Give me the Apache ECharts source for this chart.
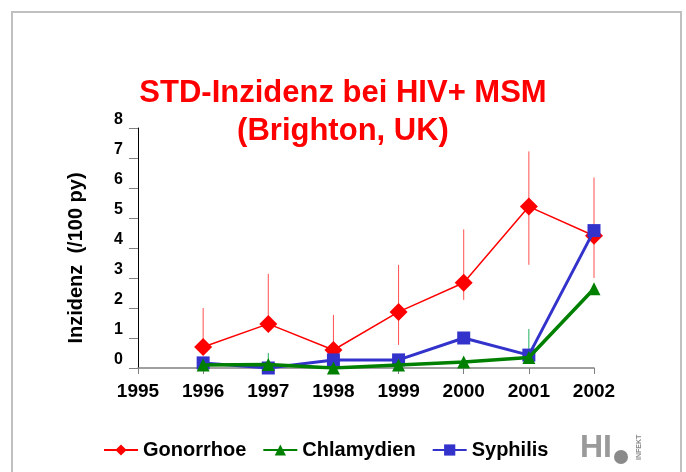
<!DOCTYPE html>
<html>
<head>
<meta charset="utf-8">
<script src="https://cdn.jsdelivr.net/npm/echarts@6/dist/echarts.min.js"></script>
<style>
  html, body { margin: 0; padding: 0; background: #fff; }
  #chart { width: 686px; height: 472px; }
</style>
</head>
<body>
<div id="chart"></div>
<script>
// Jahre (x-Achse)
var years = ['1995', '1996', '1997', '1998', '1999', '2000', '2001', '2002'];

// Inzidenz pro 100 Personenjahre
var gonorrhoe = [null, 0.7, 1.47, 0.6, 1.87, 2.84, 5.38, 4.41];
var chlamydien = [null, 0.1, 0.12, 0.0, 0.1, 0.2, 0.35, 2.64];
var syphilis = [null, 0.17, 0.0, 0.27, 0.27, 1.0, 0.43, 4.58];

// Konfidenzintervalle
var gonoLow = [null, 0.5, 1.3, 0.45, 0.77, 2.27, 3.44, 3.0];
var gonoHigh = [null, 2.0, 3.14, 1.77, 3.44, 4.62, 7.22, 6.35];
var chlaLow = [null, null, 0.0, null, null, 0.1, 0.3, null];
var chlaHigh = [null, null, 0.5, null, null, 0.3, 1.3, null];

var yTicks = [0, 1, 2, 3, 4, 5, 6, 7, 8];

var font = "'Liberation Sans', Arial, sans-serif";

function errorBars(name, low, high, color) {
    var data = [];
    for (var i = 0; i < years.length; i++) {
        if (low[i] != null && high[i] != null)
            data.push([i, low[i], high[i]]);
    }
    return {
        type: 'custom',
        name: name,
        silent: true,
        z: 1,
        encode: { x: 0, y: [1, 2] },
        data: data,
        renderItem: function (params, api) {
            var x = api.value(0);
            var p1 = api.coord([x, api.value(1)]);
            var p2 = api.coord([x, api.value(2)]);
            return {
                type: 'line',
                shape: { x1: p1[0], y1: p1[1], x2: p2[0], y2: p2[1] },
                style: { stroke: color, lineWidth: 1 }
            };
        }
    };
}

var myChart = echarts.init(document.getElementById('chart'));

var option = {
    backgroundColor: '#fff',
    animation: false,
    textStyle: { fontFamily: font },
    title: {
        text: 'STD-Inzidenz bei HIV+ MSM\n(Brighton, UK)',
        left: 'center',
        top: 69,
        textStyle: {
            color: '#ff0000',
            fontSize: 31,
            fontWeight: 'bold',
            fontFamily: font,
            lineHeight: 38
        }
    },
    legend: {
        bottom: 7,
        left: 98,
        itemWidth: 34,
        itemHeight: 14,
        itemGap: 16,
        data: ['Gonorrhoe', 'Chlamydien', 'Syphilis'],
        textStyle: { color: '#000', fontSize: 20, fontWeight: 'bold', fontFamily: font }
    },
    grid: {
        left: 138,
        right: 92,
        top: 128,
        bottom: 104,
        containLabel: false
    },
    xAxis: {
        type: 'category',
        boundaryGap: false,
        data: years,
        axisLine: { lineStyle: { color: '#808080', width: 1.5 } },
        axisTick: { show: true, length: 6, lineStyle: { color: '#808080' }, alignWithLabel: true },
        axisLabel: { color: '#000', fontSize: 19, fontWeight: 'bold', margin: 14, fontFamily: font },
        splitLine: { show: false }
    },
    yAxis: {
        type: 'value',
        min: yTicks[0],
        max: yTicks[yTicks.length - 1],
        interval: 1,
        name: 'Inzidenz  (/100 py)',
        nameLocation: 'middle',
        nameGap: 52,
        nameTextStyle: {
            color: '#000', fontSize: 20, fontWeight: 'bold', fontFamily: font,
            padding: [0, 20, 0, 0]
        },
        axisLine: { show: true, lineStyle: { color: '#000', width: 1 } },
        axisTick: { show: true, length: 9, lineStyle: { color: '#808080' } },
        axisLabel: {
            color: '#000', fontSize: 16, fontWeight: 'bold', margin: 15,
            verticalAlign: 'bottom', fontFamily: font
        },
        splitLine: { show: false }
    },
    graphic: [
        {
            type: 'rect',
            shape: { x: 12, y: 12, width: 669, height: 480 },
            style: { fill: 'none', stroke: '#c0c0c0', lineWidth: 2 },
            silent: true
        },
        {
            type: 'text',
            left: 580,
            top: 432,
            style: { text: 'HI', fill: '#9a9a9a', font: 'bold 32px ' + font }
        },
        {
            type: 'circle',
            shape: { cx: 621, cy: 457, r: 7 },
            style: { fill: '#8a8a8a' }
        },
        {
            type: 'text',
            x: 636,
            y: 460,
            rotation: Math.PI / 2,
            style: { text: 'INFEKT', fill: '#888', font: 'bold 7px ' + font }
        }
    ],
    series: [
        errorBars('gonoErr', gonoLow, gonoHigh, '#ff5050'),
        errorBars('chlaErr', chlaLow, chlaHigh, '#20b060'),
        {
            name: 'Gonorrhoe',
            type: 'line',
            data: gonorrhoe,
            z: 2,
            symbol: 'diamond',
            symbolSize: 18,
            itemStyle: { color: '#ff0000' },
            lineStyle: { color: '#ff0000', width: 1.5 }
        },
        {
            name: 'Syphilis',
            type: 'line',
            data: syphilis,
            z: 3,
            symbol: 'rect',
            symbolSize: 13,
            itemStyle: { color: '#3333cc' },
            lineStyle: { color: '#3333cc', width: 3 }
        },
        {
            name: 'Chlamydien',
            type: 'line',
            data: chlamydien,
            z: 4,
            symbol: 'triangle',
            symbolSize: 13,
            itemStyle: { color: '#008000' },
            lineStyle: { color: '#008000', width: 3.5 }
        }
    ]
};

myChart.setOption(option);
</script>
</body>
</html>
